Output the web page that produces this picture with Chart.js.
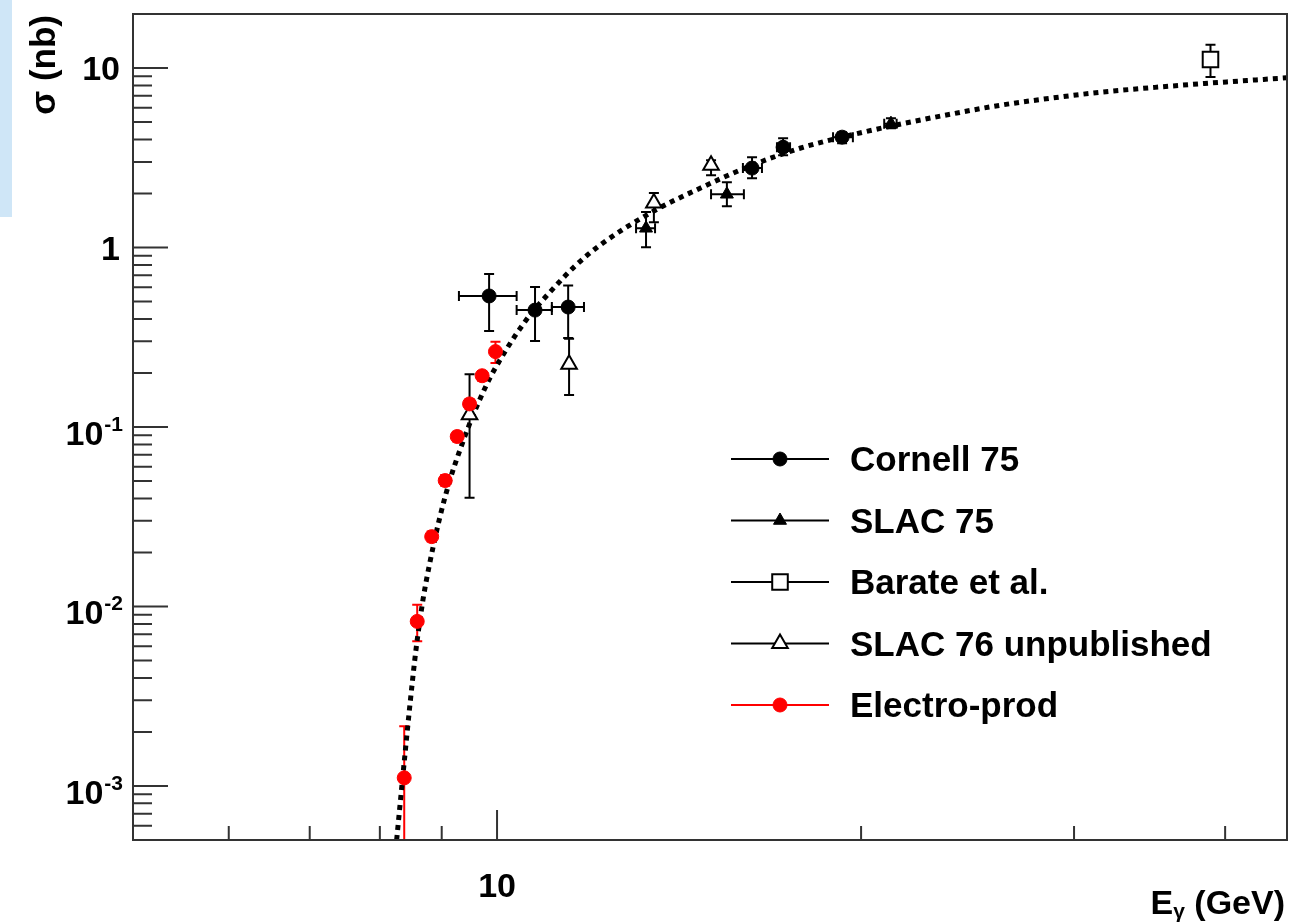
<!DOCTYPE html>
<html>
<head>
<meta charset="utf-8">
<script src="https://cdn.jsdelivr.net/npm/chart.js@4.4.1/dist/chart.umd.min.js"></script>
<style>
  body { margin: 0; background: #fff; }
  #wrap { position: relative; width: 1294px; height: 924px; }
  #strip { position: absolute; left: 0; top: 0; width: 12px; height: 217px; background: #cfe6f7; }
</style>
</head>
<body>
<div id="wrap">
  <canvas id="myChart" width="1294" height="924"></canvas>
  <div id="strip"></div>
</div>
<script>
// Data (E in GeV, sigma in nb)

// Cornell 75
const cornellE = [9.85, 10.75, 11.45, 16.25, 17.24, 19.29];
const cornellSigma = [0.537, 0.448, 0.466, 2.77, 3.62, 4.12];
const cornellElo = [9.30, 10.38, 11.10, 15.97, 17.04, 18.96];
const cornellEhi = [10.38, 11.10, 11.80, 16.56, 17.47, 19.69];
const cornellSlo = [0.343, 0.301, 0.313, 2.43, 3.27, 3.81];
const cornellShi = [0.711, 0.602, 0.614, 3.18, 4.06, 4.39];

// SLAC 75
const slac75E = [13.28, 15.49, 21.17];
const slac75Sigma = [1.28, 1.98, 4.90];
const slac75Elo = [13.03, 15.03, 20.9];
const slac75Ehi = [13.51, 16.0, 21.4];
const slac75Slo = [1.005, 1.70, 4.62];
const slac75Shi = [1.575, 2.31, 5.25];

// Barate et al.
const barateE = [38.9];
const barateSigma = [11.17];
const barateSlo = [8.91];
const barateShi = [13.5];

// SLAC 76 unpublished
const slac76E = [9.49, 11.47, 13.48, 15.03];
const slac76Sigma = [0.117, 0.224, 1.77, 2.87];
const slac76Slo = [0.0404, 0.151, 1.385, 2.53];
const slac76Shi = [0.197, 0.31, 2.01, 3.06];

// Electro-prod
const electroE = [8.38, 8.59, 8.83, 9.06, 9.27, 9.49, 9.72, 9.97];
const electroSigma = [0.00111, 0.00826, 0.0245, 0.0503, 0.0885, 0.1345, 0.193, 0.263];
const electroSlo = [0.0001, 0.0064, 0.023, 0.047, 0.083, 0.126, 0.181, 0.2275];
const electroShi = [0.00215, 0.01023, 0.0262, 0.054, 0.094, 0.143, 0.205, 0.2986];

// dotted curve
const curveE = [8.26, 8.376, 8.472, 8.57, 8.685, 8.802, 8.97, 9.143, 9.319, 9.498, 9.681, 9.866,
  10.056, 10.348, 10.648, 11.061, 11.6, 12.165, 13.38, 14.72, 16.18, 17.8, 19.58, 21.53,
  23.69, 26.06, 28.66, 31.52, 34.67, 38.13, 41.94, 45];
const curveSigma = [0.0005, 0.001317, 0.002841, 0.00575, 0.01091, 0.01775, 0.0316, 0.0508, 0.0746,
  0.1054, 0.1434, 0.1876, 0.2362, 0.3214, 0.4206, 0.5647, 0.788, 1.031, 1.554, 2.141, 2.838,
  3.573, 4.222, 4.861, 5.525, 6.201, 6.783, 7.326, 7.761, 8.167, 8.543, 8.82];

// axis ticks
const xMajorTicks = [10];
const xMajorLabels = ['10'];
const xMinorTicks = [6, 7, 8, 9, 20, 30, 40];
const yMajorTicks = [10, 1, 0.1, 0.01, 0.001];
const yTickBase = ['10', '1', '10', '10', '10'];
const yTickExp = ['', '', '-1', '-2', '-3'];

const FONT = '"Liberation Sans", Arial, Helvetica, sans-serif';

// Helper to build point objects with error ranges
function toPoints(xs, ys, xlo, xhi, ylo, yhi) {
    return xs.map((x, i) => ({
        x: x,
        y: ys[i],
        xlo: xlo ? xlo[i] : null,
        xhi: xhi ? xhi[i] : null,
        ylo: ylo ? ylo[i] : null,
        yhi: yhi ? yhi[i] : null
    }));
}

// Error bars with end caps
const errorBars = {
    id: 'errorBars',
    beforeDatasetsDraw(chart) {
        const { ctx, chartArea, scales } = chart;
        ctx.save();
        ctx.beginPath();
        ctx.rect(chartArea.left, chartArea.top, chartArea.right - chartArea.left, chartArea.bottom - chartArea.top);
        ctx.clip();
        ctx.lineWidth = 2;
        const cap = 5;
        chart.data.datasets.forEach(ds => {
            if (!ds.errorColor) return;
            ctx.strokeStyle = ds.errorColor;
            ds.data.forEach(p => {
                const px = scales.x.getPixelForValue(p.x);
                const py = scales.y.getPixelForValue(p.y);
                ctx.beginPath();
                if (p.ylo !== null) {
                    const y1 = scales.y.getPixelForValue(p.yhi);
                    const y2 = scales.y.getPixelForValue(p.ylo);
                    ctx.moveTo(px, y1); ctx.lineTo(px, y2);
                    ctx.moveTo(px - cap, y1); ctx.lineTo(px + cap, y1);
                    ctx.moveTo(px - cap, y2); ctx.lineTo(px + cap, y2);
                }
                if (p.xlo !== null) {
                    const x1 = scales.x.getPixelForValue(p.xlo);
                    const x2 = scales.x.getPixelForValue(p.xhi);
                    ctx.moveTo(x1, py); ctx.lineTo(x2, py);
                    ctx.moveTo(x1, py - cap); ctx.lineTo(x1, py + cap);
                    ctx.moveTo(x2, py - cap); ctx.lineTo(x2, py + cap);
                }
                ctx.stroke();
            });
        });
        ctx.restore();
    }
};

// Frame, inward ticks and labels in ROOT style
const rootAxes = {
    id: 'rootAxes',
    afterDatasetsDraw(chart) {
        const { ctx, chartArea, scales } = chart;
        const { left, right, top, bottom } = chartArea;
        ctx.save();
        ctx.strokeStyle = '#333';
        ctx.lineWidth = 2;
        ctx.strokeRect(left, top, right - left, bottom - top);

        // x ticks
        ctx.beginPath();
        xMajorTicks.forEach(v => {
            const px = scales.x.getPixelForValue(v);
            ctx.moveTo(px, bottom); ctx.lineTo(px, bottom - 30);
        });
        xMinorTicks.forEach(v => {
            const px = scales.x.getPixelForValue(v);
            ctx.moveTo(px, bottom); ctx.lineTo(px, bottom - 14);
        });

        // y ticks
        yMajorTicks.forEach(v => {
            const py = scales.y.getPixelForValue(v);
            ctx.moveTo(left, py); ctx.lineTo(left + 35, py);
        });
        for (let dec = -4; dec <= 1; dec++) {
            for (let m = 2; m <= 9; m++) {
                const v = m * Math.pow(10, dec);
                if (v <= scales.y.min || v >= scales.y.max) continue;
                const py = scales.y.getPixelForValue(v);
                ctx.moveTo(left, py); ctx.lineTo(left + 19, py);
            }
        }
        ctx.stroke();

        ctx.fillStyle = '#000';
        // x labels
        ctx.font = 'bold 34px ' + FONT;
        ctx.textAlign = 'center';
        ctx.textBaseline = 'alphabetic';
        xMajorTicks.forEach((v, i) => {
            ctx.fillText(xMajorLabels[i], scales.x.getPixelForValue(v), bottom + 57);
        });

        // y labels
        yMajorTicks.forEach((v, i) => {
            const py = scales.y.getPixelForValue(v);
            if (!yTickExp[i]) {
                ctx.font = 'bold 34px ' + FONT;
                ctx.textAlign = 'right';
                ctx.fillText(yTickBase[i], 120, py + 12);
            } else {
                ctx.font = 'bold 21px ' + FONT;
                const supW = ctx.measureText(yTickExp[i]).width;
                ctx.textAlign = 'right';
                ctx.fillText(yTickExp[i], 123, py + 4);
                ctx.font = 'bold 34px ' + FONT;
                ctx.fillText(yTickBase[i], 123 - supW - 1, py + 18);
            }
        });

        // x title: E_gamma (GeV)
        ctx.textAlign = 'left';
        const t1 = 'E', t3 = ' (GeV)';
        ctx.font = 'bold 34px ' + FONT;
        const w1 = ctx.measureText(t1).width;
        const w3 = ctx.measureText(t3).width;
        ctx.font = 'bold 21px ' + FONT;
        const w2 = ctx.measureText('γ').width;
        const xStart = 1285 - w1 - w2 - w3;
        ctx.font = 'bold 34px ' + FONT;
        ctx.fillText(t1, xStart, 914);
        ctx.font = 'bold 21px ' + FONT;
        ctx.fillText('γ', xStart + w1, 918);
        ctx.font = 'bold 34px ' + FONT;
        ctx.fillText(t3, xStart + w1 + w2, 914);

        // y title
        ctx.save();
        ctx.translate(55, 15);
        ctx.rotate(-Math.PI / 2);
        ctx.textAlign = 'right';
        ctx.font = 'bold 35px ' + FONT;
        ctx.fillText('σ (nb)', 0, 0);
        ctx.restore();

        ctx.restore();
    }
};

// Legend with a line through each marker
const legendOrder = ['Cornell 75', 'SLAC 75', 'Barate et al.', 'SLAC 76 unpublished', 'Electro-prod'];
const rootLegend = {
    id: 'rootLegend',
    afterDraw(chart) {
        const ctx = chart.ctx;
        ctx.save();
        legendOrder.forEach((name, i) => {
            const ds = chart.data.datasets.find(d => d.label === name);
            const y = 459 + i * 61.5;
            ctx.strokeStyle = ds.errorColor;
            ctx.lineWidth = 2;
            ctx.beginPath();
            ctx.moveTo(731, y); ctx.lineTo(829, y);
            ctx.stroke();
            ctx.fillStyle = ds.pointBackgroundColor;
            ctx.strokeStyle = ds.pointBorderColor;
            ctx.lineWidth = ds.pointBorderWidth;
            Chart.helpers.drawPoint(ctx, {
                pointStyle: ds.pointStyle,
                radius: ds.pointRadius,
                rotation: 0,
                borderWidth: ds.pointBorderWidth
            }, 780, y);
            ctx.fillStyle = '#000';
            ctx.font = 'bold 35px ' + FONT;
            ctx.textAlign = 'left';
            ctx.textBaseline = 'alphabetic';
            ctx.fillText(name, 850, y + 12);
        });
        ctx.restore();
    }
};

const data = {
    datasets: [
        {
            label: 'Electro-prod',
            data: toPoints(electroE, electroSigma, null, null, electroSlo, electroShi),
            pointStyle: 'circle', pointRadius: 7,
            pointBackgroundColor: '#ff0000', pointBorderColor: '#ff0000', pointBorderWidth: 1,
            errorColor: '#ff0000'
        },
        {
            label: 'SLAC 76 unpublished',
            data: toPoints(slac76E, slac76Sigma, null, null, slac76Slo, slac76Shi),
            pointStyle: 'triangle', pointRadius: 9,
            pointBackgroundColor: '#ffffff', pointBorderColor: '#000000', pointBorderWidth: 2,
            errorColor: '#000000'
        },
        {
            label: 'Cornell 75',
            data: toPoints(cornellE, cornellSigma, cornellElo, cornellEhi, cornellSlo, cornellShi),
            pointStyle: 'circle', pointRadius: 7,
            pointBackgroundColor: '#000000', pointBorderColor: '#000000', pointBorderWidth: 1,
            errorColor: '#000000'
        },
        {
            label: 'SLAC 75',
            data: toPoints(slac75E, slac75Sigma, slac75Elo, slac75Ehi, slac75Slo, slac75Shi),
            pointStyle: 'triangle', pointRadius: 7.5,
            pointBackgroundColor: '#000000', pointBorderColor: '#000000', pointBorderWidth: 1,
            errorColor: '#000000'
        },
        {
            label: 'Barate et al.',
            data: toPoints(barateE, barateSigma, null, null, barateSlo, barateShi),
            pointStyle: 'rect', pointRadius: 11,
            pointBackgroundColor: '#ffffff', pointBorderColor: '#000000', pointBorderWidth: 2,
            errorColor: '#000000'
        },
        {
            label: 'curve',
            data: curveE.map((e, i) => ({ x: e, y: curveSigma[i] })),
            showLine: true,
            borderColor: '#000000',
            borderWidth: 5,
            borderDash: [5, 5],
            pointRadius: 0,
            cubicInterpolationMode: 'monotone',
            fill: false
        }
    ]
};

const config = {
    type: 'scatter',
    data: data,
    options: {
        responsive: false,
        animation: false,
        devicePixelRatio: 1,
        layout: { autoPadding: false, padding: { left: 133, top: 14, right: 7, bottom: 84 } },
        plugins: {
            legend: { display: false },
            tooltip: { enabled: false }
        },
        scales: {
            x: { type: 'logarithmic', min: 5, max: 45, display: false },
            y: { type: 'logarithmic', min: 0.0005, max: 20, display: false }
        }
    },
    plugins: [errorBars, rootAxes, rootLegend]
};

const ctx = document.getElementById('myChart').getContext('2d');
const myChart = new Chart(ctx, config);
</script>
</body>
</html>
